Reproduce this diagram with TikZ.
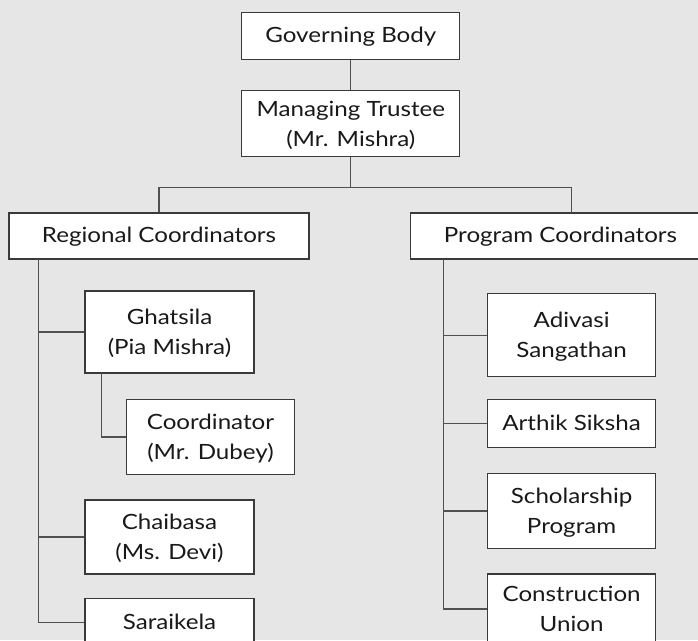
\documentclass[tikz,border=0pt]{standalone}
\usepackage{fontspec}
\setmainfont[FakeStretch=1.15]{Lato}
% struts that fix where the text lines sit inside each box
\newcommand{\oneline}[1]{\rule[-8pt]{0pt}{29pt}#1}
\newcommand{\twolines}[2]{\rule{0pt}{23pt}#1\\#2\rule[-8pt]{0pt}{8pt}}
\begin{document}
\begin{tikzpicture}[x=1pt,y=-1pt,
  orgbox/.style={draw=boxline,fill=white,line width=1.2pt,inner sep=0pt,
    align=center,font=\fontsize{21}{30}\selectfont,text=black!90},
  link/.style={draw=linkgray,line width=1.2pt}]
\definecolor{bggray}{HTML}{E6E6E6}
\definecolor{boxline}{HTML}{3A3A3A}
\definecolor{linkgray}{HTML}{505050}
\fill[bggray] (0,0) rectangle (698,640);
\useasboundingbox (0,0) rectangle (698,640);
\clip (0,0) rectangle (698,640);

% top of the hierarchy
\node[orgbox,minimum width=218pt,minimum height=47pt] (gov) at (350.8,35.8) {\oneline{Governing Body}};
\node[orgbox,minimum width=218pt,minimum height=66pt] (mt) at (350.8,123.7) {\twolines{Managing Trustee}{(Mr. Mishra)}};

% the two coordinator groups
\node[orgbox,minimum width=300pt,minimum height=46pt] (reg) at (159,236) {\oneline{Regional Coordinators}};
\node[orgbox,minimum width=300pt,minimum height=46pt] (prog) at (560.5,236) {\oneline{Program Coordinators}};

% regional branch
\node[orgbox,minimum width=169pt,minimum height=82pt] (gha) at (169.5,332) {\twolines{Ghatsila}{(Pia Mishra)}};
\node[orgbox,minimum width=168pt,minimum height=75pt] (dub) at (210.5,437) {\twolines{Coordinator}{(Mr. Dubey)}};
\node[orgbox,minimum width=169pt,minimum height=74pt] (cha) at (169.5,537) {\twolines{Chaibasa}{(Ms. Devi)}};
\node[orgbox,minimum width=169pt,minimum height=48pt] (sar) at (169.5,622.7) {\oneline{Saraikela}};

% program branch
\node[orgbox,minimum width=168pt,minimum height=83pt] (adi) at (571.6,335.3) {\twolines{Adivasi}{Sangathan}};
\node[orgbox,minimum width=168pt,minimum height=48pt] (art) at (571.6,423.8) {\oneline{Arthik Siksha}};
\node[orgbox,minimum width=168pt,minimum height=75pt] (sch) at (571.6,511) {\twolines{Scholarship}{Program}};
\node[orgbox,minimum width=168pt,minimum height=70pt] (con) at (571.6,609) {\twolines{Construction}{Union}};

% connectors
\draw[link] (gov.south) -- (mt.north);
\coordinate (split) at (350.8,187.7);
\coordinate (progtop) at (571.6,213.3);
\draw[link] (mt.south) -- (split);
\draw[link] (reg.north) |- (split) -| (progtop);

% regional spine
\coordinate (rspine) at (38.7,259);
\draw[link] (rspine) |- (sar.west);
\draw[link] (rspine |- gha.west) -- (gha.west);
\draw[link] (rspine |- cha.west) -- (cha.west);
\coordinate (gsub) at (101.5,373.3);
\draw[link] (gsub) |- (dub.west);

% program spine
\coordinate (pspine) at (443.8,259);
\draw[link] (pspine) |- (con.west);
\draw[link] (pspine |- adi.west) -- (adi.west);
\draw[link] (pspine |- art.west) -- (art.west);
\draw[link] (pspine |- sch.west) -- (sch.west);
\end{tikzpicture}
\end{document}
